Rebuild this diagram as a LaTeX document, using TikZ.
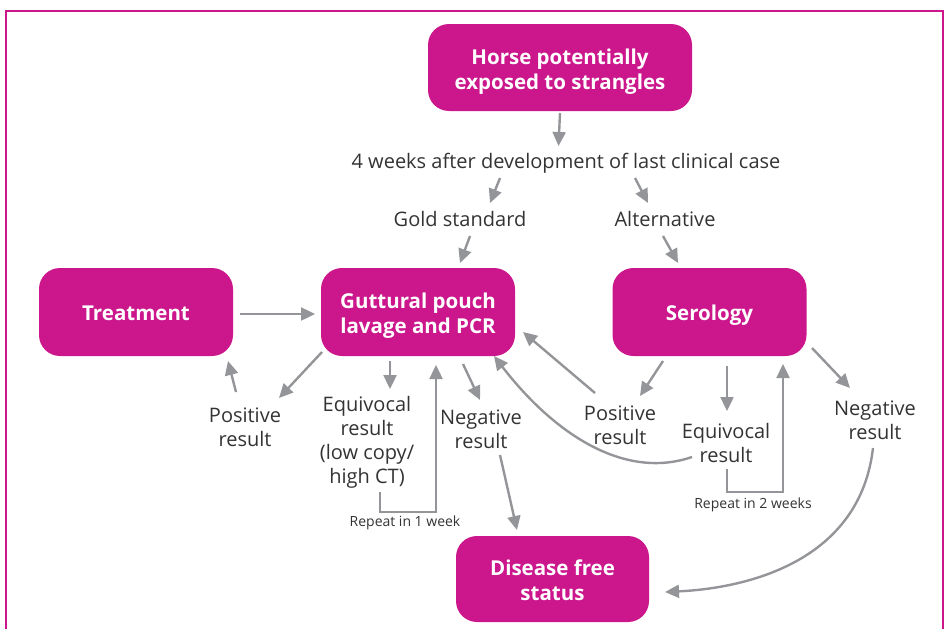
\documentclass[tikz,border=0pt]{standalone}
\usepackage{fontspec}
\setmainfont{Open Sans}
\usetikzlibrary{arrows.meta,calc}
\definecolor{mag}{HTML}{CB168C}
\definecolor{arrg}{HTML}{939598}
\definecolor{txt}{HTML}{333333}
\newcommand{\bfirst}[1]{\raisebox{0pt}[18.5pt][0pt]{#1}}
\newcommand{\blast}[1]{\raisebox{0pt}[15pt][0pt]{#1}}
\newcommand{\bone}[1]{\raisebox{0pt}[17pt][0pt]{#1}}
\begin{document}
\begin{tikzpicture}[x=1pt,y=-1pt,
 box/.style={fill=mag, rounded corners=21pt, text=white, font=\bfseries\fontsize{20.5}{25}\selectfont, align=center, minimum width=194pt, minimum height=88pt, inner sep=0pt},
 lbl/.style={text=txt, font=\fontsize{20}{24}\selectfont, align=center, inner sep=1pt},
 smalllbl/.style={text=txt, font=\fontsize{14}{16}\selectfont, inner sep=1pt},
 arr/.style={draw=arrg, line width=2.4pt, -{Triangle[length=14pt,width=13pt]}},
 frame/.style={draw=mag, line width=1.3pt},
]
\useasboundingbox (0,0) rectangle (947,629);
\draw[frame] (6,629) -- (6,11) -- (943,11) -- (943,629);

% boxes
\node[box, minimum width=264pt, minimum height=87pt] (horse) at (560,67.5) {\bfirst{Horse potentially}\\\blast{exposed to strangles}};
\node[box] (treat) at (136,312) {\bone{Treatment}};
\node[box] (gutt) at (418,312) {\bfirst{Guttural pouch}\\\blast{lavage and PCR}};
\node[box] (sero) at (709.5,312) {\bone{Serology}};
\node[box, minimum width=193pt, minimum height=86pt] (free) at (552.5,579) {\bfirst{Disease free}\\\blast{status}};

% labels
\node[lbl] (weeks) at (566,163.5) {4 weeks after development of last clinical case};
\node[lbl] (gold) at (460,219) {Gold standard};
\node[lbl] (alt) at (665,219) {Alternative};
\node[lbl] (pos1) at (245,427) {Positive\\result};
\node[lbl] (equiv1) at (367,442) {Equivocal\\result\\(low copy/\\high CT)};
\node[lbl] (neg1) at (481,429) {Negative\\result};
\node[lbl] (pos2) at (620,425) {Positive\\result};
\node[lbl] (equiv2) at (726,443) {Equivocal\\result};
\node[lbl] (neg2) at (875,420) {Negative\\result};
\node[smalllbl] (rep1) at (405,523) {Repeat in 1 week};
\node[smalllbl] (rep2) at (753,505) {Repeat in 2 weeks};

% connectors
\draw[arr] ([shift={(0,45.5)}]horse.center) -- ([shift={(-7.5,-17.5)}]weeks.center);
\draw[arr] ([shift={(-66,14.5)}]weeks.center) -- ([shift={(30,-16)}]gold.center);
\draw[arr] ([shift={(69,14.5)}]weeks.center) -- ([shift={(-17,-16)}]alt.center);
\draw[arr] ([shift={(10,17)}]gold.center) -- ([shift={(42,-49)}]gutt.center);
\draw[arr] ([shift={(-2,17)}]alt.center) -- ([shift={(-31.5,-49)}]sero.center);
\draw[arr] ([shift={(104,2)}]treat.center) -- ([shift={(-103,2)}]gutt.center);
\draw[arr] ([shift={(-96,40)}]gutt.center) -- ([shift={(34,-29)}]pos1.center);
\draw[arr] ([shift={(-9,-35)}]pos1.center) -- ([shift={(92,49)}]treat.center);
\draw[arr] ([shift={(-28,49)}]gutt.center) -- ([shift={(23,-53)}]equiv1.center);
\draw[arr] ([shift={(13,50)}]equiv1.center) |- ([shift={(31,-11)}]rep1.center) -- ([shift={(18,53)}]gutt.center);
\draw[arr] ([shift={(45,52)}]gutt.center) -- ([shift={(-1,-29)}]neg1.center);
\draw[arr] ([shift={(19,26)}]neg1.center) -- ([shift={(-35.5,-49)}]free.center);
\draw[arr] ([shift={(-25,-32)}]pos2.center) -- ([shift={(105,20)}]gutt.center);
\draw[arr] ([shift={(-46.5,49)}]sero.center) -- ([shift={(20,-29)}]pos2.center);
\draw[arr] ([shift={(17.5,54)}]sero.center) -- ([shift={(1,-32)}]equiv2.center);
\draw[arr] ([shift={(1,26)}]equiv2.center) |- ([shift={(30,-13)}]rep2.center) -- ([shift={(73.5,52)}]sero.center);
\draw[arr] ([shift={(102.5,36)}]sero.center) -- ([shift={(-25,-32)}]neg2.center);
\draw[arr] ([shift={(-34,14)}]equiv2.center) .. controls +(-67,23) and +(61,79) .. ([shift={(76,44)}]gutt.center);
\draw[arr] ([shift={(-2,28)}]neg2.center) .. controls +(-13,112) and +(85,-4) .. ([shift={(112.5,13)}]free.center);
\end{tikzpicture}
\end{document}
